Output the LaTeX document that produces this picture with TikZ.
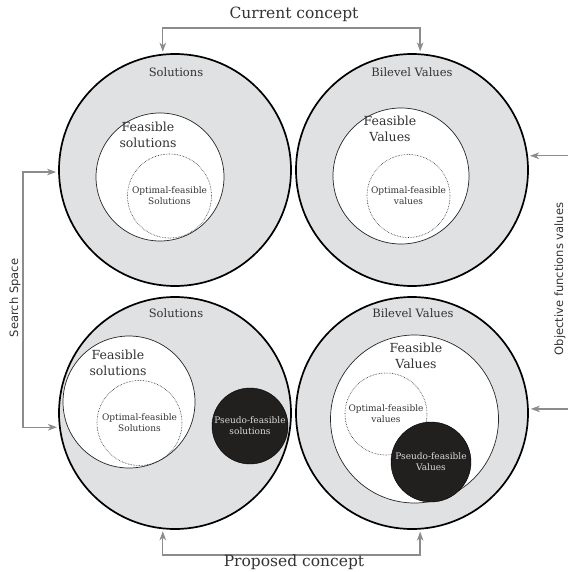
\documentclass[tikz,border=0pt]{standalone}
\usepackage{fontspec}
\setmainfont{DejaVu Serif}
\setsansfont{DejaVu Sans}
\usepackage{tikz}
\usetikzlibrary{arrows.meta}

\definecolor{ringgray}{HTML}{E0E1E3}
\definecolor{txtgray}{HTML}{333333}
\definecolor{arrgray}{HTML}{8C8C8C}
\definecolor{pseudofill}{HTML}{221F1F}
\definecolor{pseudotxt}{HTML}{DADADA}

\tikzset{
  ring/.style={circle, draw=black, line width=1.7pt, fill=ringgray, minimum size=232pt, inner sep=0pt},
  feasible/.style={circle, draw=black!85, line width=0.7pt, fill=white, inner sep=0pt},
  optimal/.style={circle, draw=black!85, densely dotted, line width=0.6pt, inner sep=0pt, align=center, text=txtgray, font=\fontsize{9}{11}\selectfont},
  pseudo/.style={circle, draw=black, fill=pseudofill, inner sep=0pt, align=center, text=pseudotxt, font=\fontsize{9}{11}\selectfont},
  title/.style={text=txtgray, font=\fontsize{11.5}{14}\selectfont},
  feastitle/.style={text=txtgray, align=center, font=\fontsize{12.5}{15.5}\selectfont},
  concept/.style={text=txtgray, font=\fontsize{15.5}{18}\selectfont},
  side/.style={text=txtgray, rotate=90, font=\sffamily\fontsize{11.5}{14}\selectfont},
  bracket/.style={draw=arrgray, line width=1.4pt, <->, shorten <=2pt, shorten >=2pt}
}

\begin{document}
\begin{tikzpicture}[x=1pt, y=-1pt, >={Stealth[length=9pt,width=6.5pt,inset=2.5pt]}]
   \useasboundingbox (0,0) rectangle (567,572);

   % current concept
   \node[ring] (tl) at (175,170) {};
   \node[ring] (tr) at (412,170) {};
   \node[title] (tlname) at (176,72) {Solutions};
   \node[title] (trname) at (412,72) {Bilevel Values};

   \node[feasible, minimum size=128pt] (tlfeas) at (160,177) {};
   \node[feastitle] (tlfeaslbl) at (148,135) {Feasible\\solutions};
   \node[optimal, minimum size=84pt] (tlopt) at (169.5,196) {Optimal-feasible\\Solutions};

   \node[feasible, minimum size=136pt] (trfeas) at (401,176) {};
   \node[feastitle] (trfeaslbl) at (390,129) {Feasible\\Values};
   \node[optimal, minimum size=83pt] (tropt) at (408.5,196) {Optimal-feasible\\values};

   % proposed concept
   \node[ring] (bl) at (175,413) {};
   \node[ring] (br) at (412,413) {};
   \node[title] (blname) at (176,313) {Solutions};
   \node[title] (brname) at (413,313) {Bilevel Values};

   \node[feasible, minimum size=132pt] (blfeas) at (129,402) {};
   \node[feastitle] (blfeaslbl) at (118,363) {Feasible\\solutions};
   \node[optimal, minimum size=85pt] (blopt) at (139.5,423) {Optimal-feasible\\Solutions};
   \node[pseudo, minimum size=76pt] (blpseudo) at (250,426) {Pseudo-feasible\\solutions};

   \node[feasible, minimum size=168pt] (brfeas) at (414.5,419) {};
   \node[feastitle] (brfeaslbl) at (416,356) {Feasible\\Values};
   \node[optimal, minimum size=82pt] (bropt) at (386,414) {Optimal-feasible\\values};
   \node[pseudo, minimum size=80pt] (brpseudo) at (431,462) {Pseudo-feasible\\Values};

   % brackets
   \coordinate (topbar) at (291,28);
   \coordinate (botbar) at (291,555);
   \coordinate (leftbar) at (23,300);
   \coordinate (rightbar) at (578,283);

   \draw[bracket] (tl.96) |- (topbar) -| (tr.86);
   \draw[bracket] (bl.264) |- (botbar) -| (br.274);
   \draw[bracket] (tl.181) -| (leftbar) |- (bl.187);
   \draw[bracket] (tr.7) -| (rightbar) |- (br.2);

   \node[concept] (cur) at (294,14) {Current concept};
   \node[concept] (prop) at (294,562) {Proposed concept};
   \node[side] (space) at (15,298) {Search Space};
   \node[side] (objval) at (560,279) {Objective functions values};

\end{tikzpicture}
\end{document}
